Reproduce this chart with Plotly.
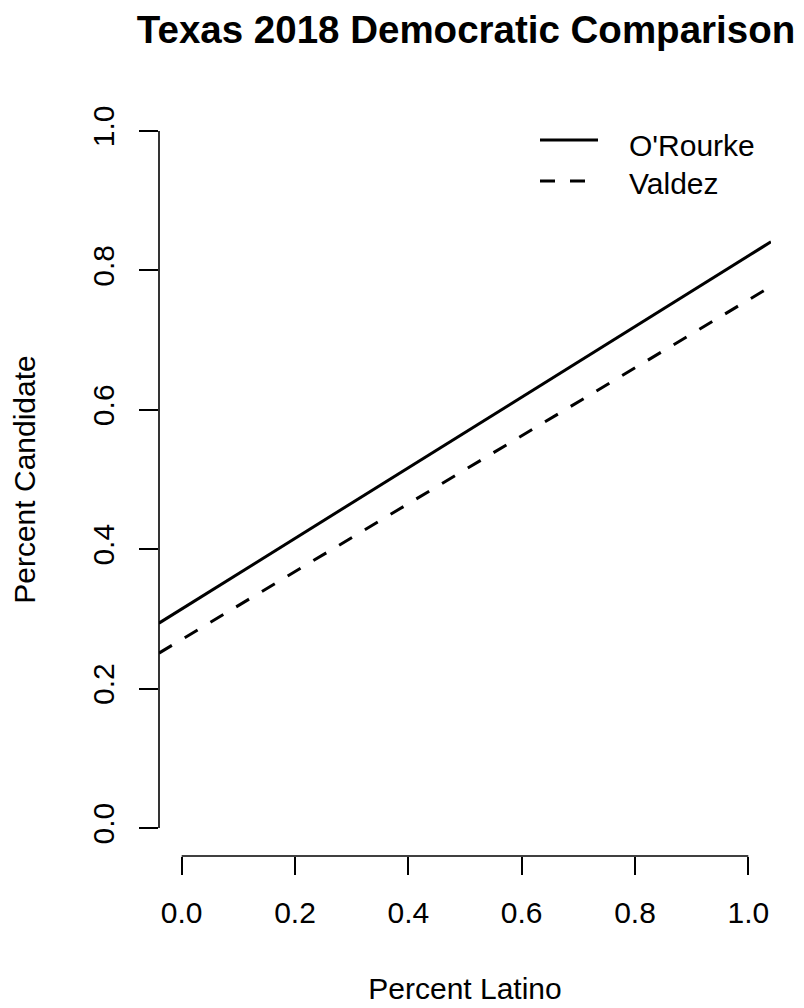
import plotly.graph_objects as go

# Data (line endpoints at the plot-region edges)
latino = [-0.04, 1.04]
orourke = [0.294, 0.841]
valdez = [0.251, 0.777]
series_names = ["O'Rourke", "Valdez"]
x_ticks = [0.0, 0.2, 0.4, 0.6, 0.8, 1.0]
y_ticks = [0.0, 0.2, 0.4, 0.6, 0.8, 1.0]
tick_text = ["0.0", "0.2", "0.4", "0.6", "0.8", "1.0"]

FONT = "Liberation Sans, Arial, sans-serif"
W, H = 804, 1008
OFF = 8  # page body margin offset
L, R, T = 159 - OFF, 804 - (771 - OFF), 103 - OFF
B = H - (855.6 - OFF)
pw, ph = W - L - R, H - T - B

dashes = ["solid", "15px,15px"]

fig = go.Figure()
for name, ys, dash in zip(series_names, [orourke, valdez], dashes):
    fig.add_trace(go.Scatter(x=latino, y=ys, mode="lines", name=name,
                             line=dict(color="black", width=3, dash=dash),
                             showlegend=False))

def px_x(p):
    return (p - OFF - L) / pw

def px_y(p):
    return (H - B - (p - OFF)) / ph

shapes = [
    # R-style axis lines spanning only the tick range
    dict(type="line", xref="paper", yref="y", x0=0, x1=0, y0=y_ticks[0], y1=y_ticks[-1],
         line=dict(color="black", width=1.6)),
    dict(type="line", xref="x", yref="paper", x0=x_ticks[0], x1=x_ticks[-1], y0=0, y1=0,
         line=dict(color="black", width=1.6)),
]
annotations = []
leg_line_y = [140, 181]
leg_text_y = [145, 183]
for name, dash, ly, ty in zip(series_names, dashes, leg_line_y, leg_text_y):
    shapes.append(dict(type="line", xref="paper", yref="paper",
                       x0=px_x(540), x1=px_x(598), y0=px_y(ly), y1=px_y(ly),
                       line=dict(color="black", width=3, dash=dash)))
    annotations.append(dict(text=name, xref="paper", yref="paper",
                            x=px_x(627), y=px_y(ty), xanchor="left", yanchor="middle",
                            showarrow=False, font=dict(family=FONT, size=30, color="black")))

fig.update_layout(
    width=W, height=H,
    margin=dict(l=L, r=R, t=T, b=B, autoexpand=False),
    paper_bgcolor="white", plot_bgcolor="white",
    title=dict(text="<b>Texas 2018 Democratic Comparison</b>",
               x=(466 - OFF) / W, xanchor="center", xref="container",
               y=1 - (30 - OFF) / H, yanchor="middle", yref="container",
               font=dict(family=FONT, size=38.5, color="black")),
    xaxis=dict(range=[-0.04, 1.04], tickvals=x_ticks, ticktext=tick_text,
               showgrid=False, zeroline=False, showline=False,
               ticks="outside", ticklen=18, tickwidth=1.6, tickcolor="black",
               ticklabelstandoff=12,
               tickfont=dict(family=FONT, size=30, color="black"),
               title=dict(text="Percent Latino", standoff=49,
                          font=dict(family=FONT, size=30, color="black"))),
    yaxis=dict(range=[-0.04, 1.04], tickvals=y_ticks, ticktext=tick_text,
               showgrid=False, zeroline=False, showline=False,
               ticks="outside", ticklen=19, tickwidth=1.6, tickcolor="black",
               tickangle=-90, ticklabelstandoff=13,
               tickfont=dict(family=FONT, size=30, color="black"),
               title=dict(text="Percent Candidate", standoff=43,
                          font=dict(family=FONT, size=30, color="black"))),
    shapes=shapes,
    annotations=annotations,
)

fig.write_html("out.html")
